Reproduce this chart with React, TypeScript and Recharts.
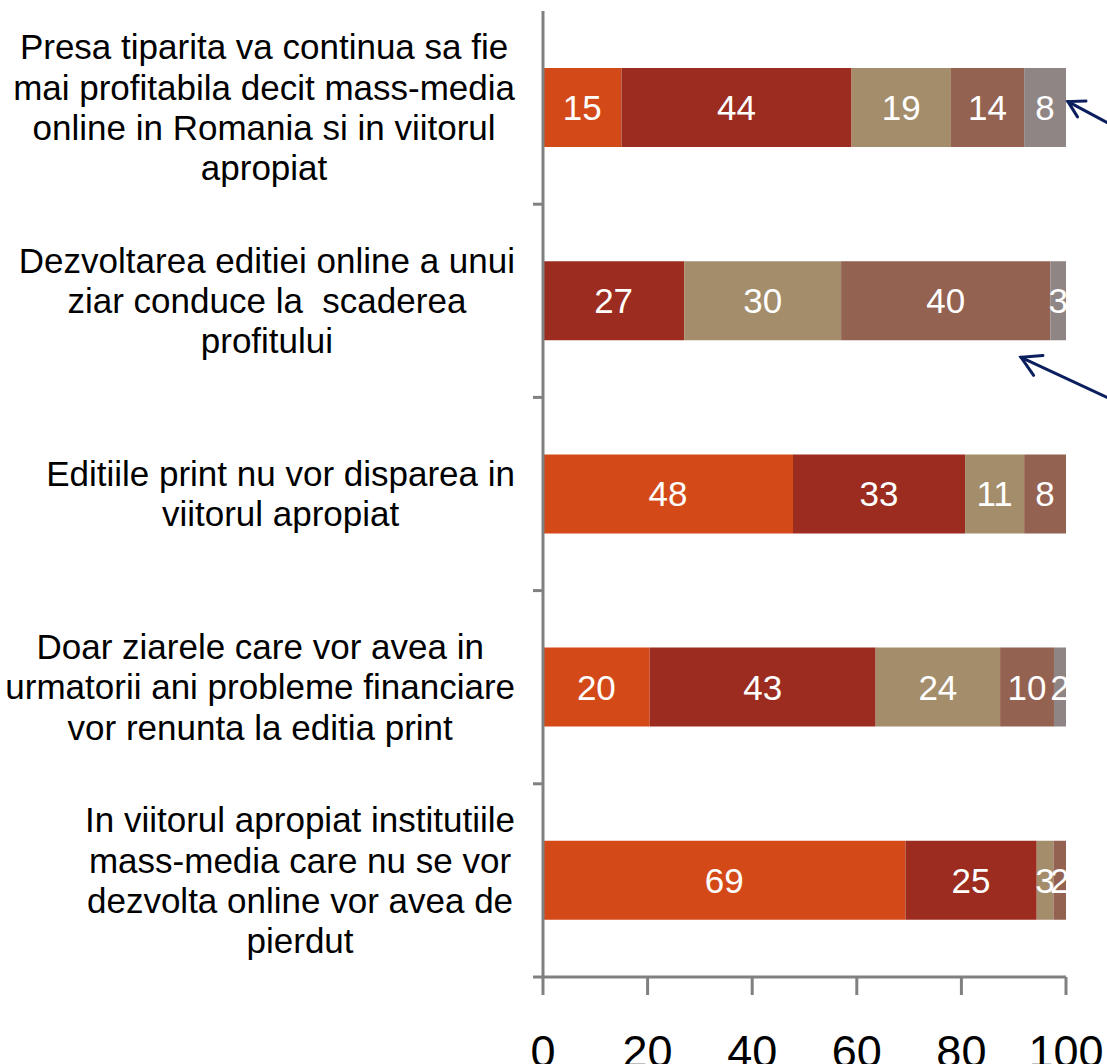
import React from "react";
import { Bar, BarChart, LabelList, XAxis, YAxis } from "recharts";

// category labels, one string per bar, lines split with \n
const categories = [
  "Presa tiparita va continua sa fie\nmai profitabila decit mass-media\nonline in Romania si in viitorul\napropiat",
  "Dezvoltarea editiei online a unui\nziar conduce la  scaderea\nprofitului",
  "Editiile print nu vor disparea in\nviitorul apropiat",
  "Doar ziarele care vor avea in\nurmatorii ani probleme financiare\nvor renunta la editia print",
  "In viitorul apropiat institutiile\nmass-media care nu se vor\ndezvolta online vor avea de\npierdut",
];

// shares per answer (%)
const seg1 = [15, 0, 47.8, 20.4, 69.3];
const seg2 = [44, 27, 32.9, 43.2, 25.1];
const seg3 = [19, 30, 11.3, 23.8, 3.2];
const seg4 = [14, 40, 8, 10.3, 2.4];
const seg5 = [8, 3, 0, 2.3, 0];

const xTicks = [0, 20, 40, 60, 80, 100];

const COLORS = ["#d34a18", "#9b2c1f", "#a38d6b", "#946251", "#8f8585"];
const KEYS = ["s1", "s2", "s3", "s4", "s5"];
const AXIS_GRAY = "#808080";
const ARROW = "#0b1f5e";
const FONT = "'Liberation Sans', Arial, sans-serif";

const W = 1107;
const H = 1064;
const MARGIN = { top: 11, right: 41, left: 0, bottom: 0 };
const Y_AXIS_W = 543;
const X_AXIS_H = 87;
const PLOT_LEFT = MARGIN.left + Y_AXIS_W;
const PLOT_W = W - PLOT_LEFT - MARGIN.right;
const PLOT_H = H - MARGIN.top - MARGIN.bottom - X_AXIS_H;
const BAND = PLOT_H / categories.length;
const BAR_SIZE = 79;

const LABEL_SIZE = 35;
const LINE_H = 40.3;

const data = categories.map((name, i) => ({
  name,
  s1: seg1[i],
  s2: seg2[i],
  s3: seg3[i],
  s4: seg4[i],
  s5: seg5[i],
}));

let measureCtx: CanvasRenderingContext2D | null = null;
function textWidth(text: string): number {
  if (!measureCtx) {
    measureCtx = document.createElement("canvas").getContext("2d");
  }
  if (!measureCtx) return text.length * LABEL_SIZE * 0.5;
  measureCtx.font = `${LABEL_SIZE}px 'Liberation Sans', Arial`;
  return measureCtx.measureText(text).width;
}

function CategoryTick(props: any) {
  const { x, y, payload } = props;
  const lines = String(payload.value).split("\n");
  const blockW = Math.max(...lines.map(textWidth));
  const cx = x - blockW / 2;
  const bottom = y + BAND / 2;
  return (
    <g>
      <line
        x1={PLOT_LEFT - 10}
        x2={PLOT_LEFT}
        y1={bottom}
        y2={bottom}
        stroke={AXIS_GRAY}
        strokeWidth={3}
      />
      {lines.map((line, i) => (
        <text
          key={i}
          x={cx}
          y={y + (i - (lines.length - 1) / 2) * LINE_H}
          dy="0.35em"
          textAnchor="middle"
          fontSize={LABEL_SIZE}
          fontFamily={FONT}
          fill="#000"
          style={{ whiteSpace: "pre" }}
        >
          {line}
        </text>
      ))}
    </g>
  );
}

const xPx = (v: number) => PLOT_LEFT + (v / 100) * PLOT_W;
const bandCenter = (i: number) => MARGIN.top + BAND * (i + 0.5);

function Arrow({ tip, tail, head }: { tip: [number, number]; tail: [number, number]; head: number }) {
  const dx = tail[0] - tip[0];
  const dy = tail[1] - tip[1];
  const len = Math.hypot(dx, dy);
  const ux = dx / len;
  const uy = dy / len;
  const a = Math.PI / 6;
  const w1 = [tip[0] + head * (ux * Math.cos(a) - uy * Math.sin(a)), tip[1] + head * (ux * Math.sin(a) + uy * Math.cos(a))];
  const w2 = [tip[0] + head * (ux * Math.cos(-a) - uy * Math.sin(-a)), tip[1] + head * (ux * Math.sin(-a) + uy * Math.cos(-a))];
  return (
    <g stroke={ARROW} strokeWidth={3} fill="none" strokeLinecap="round">
      <line x1={tip[0]} y1={tip[1]} x2={tail[0]} y2={tail[1]} />
      <polyline points={`${w1[0]},${w1[1]} ${tip[0]},${tip[1]} ${w2[0]},${w2[1]}`} />
    </g>
  );
}

const fmt = (v: any) => (Number(v) > 0 ? String(Math.round(Number(v))) : "");

export default function App() {
  return (
    <div style={{ position: "absolute", left: 0, top: 0, width: W, height: H, background: "#fff" }}>
      <BarChart
        width={W}
        height={H}
        data={data}
        layout="vertical"
        margin={MARGIN}
        style={{ fontFamily: FONT }}
      >
        <XAxis
          type="number"
          domain={[0, 100]}
          ticks={xTicks}
          height={X_AXIS_H}
          stroke={AXIS_GRAY}
          axisLine={{ stroke: AXIS_GRAY, strokeWidth: 3 }}
          tickLine={{ stroke: AXIS_GRAY, strokeWidth: 3 }}
          tickSize={18}
          tickMargin={40}
          tick={{ fill: "#000", fontSize: 45, fontFamily: FONT }}
          interval={0}
        />
        <YAxis
          type="category"
          dataKey="name"
          width={Y_AXIS_W}
          axisLine={{ stroke: AXIS_GRAY, strokeWidth: 3 }}
          tickLine={false}
          tickSize={10}
          tickMargin={18}
          tick={<CategoryTick />}
          interval={0}
        />
        {KEYS.map((key, i) => (
          <Bar key={key} dataKey={key} stackId="a" fill={COLORS[i]} barSize={BAR_SIZE} isAnimationActive={false}>
            <LabelList
              dataKey={key}
              position="center"
              fill="#fff"
              fontSize={LABEL_SIZE}
              fontFamily={FONT}
              formatter={fmt}
            />
          </Bar>
        ))}
      </BarChart>
      <svg
        width={W}
        height={H}
        style={{ position: "absolute", left: 0, top: 0, pointerEvents: "none" }}
      >
        <Arrow tip={[xPx(100) + 2, bandCenter(0) - 6]} tail={[W + 4, bandCenter(0) + 17]} head={18} />
        <Arrow tip={[xPx(91.4), bandCenter(1) + BAR_SIZE / 2 + 17]} tail={[W + 4, bandCenter(1) + BAR_SIZE / 2 + 59]} head={22} />
      </svg>
    </div>
  );
}
